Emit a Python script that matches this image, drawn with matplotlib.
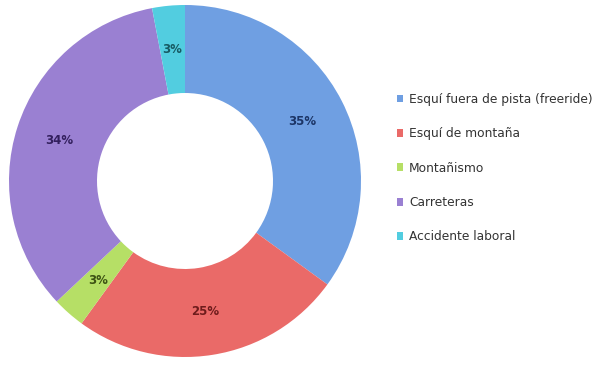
import numpy as np
import matplotlib.pyplot as plt
from matplotlib.patches import Patch

# Datos del gráfico de anillo
categorias = ['Esquí fuera de pista (freeride)', 'Esquí de montaña', 'Montañismo',
              'Carreteras', 'Accidente laboral']
porcentajes = [35, 25, 3, 34, 3]
etiquetas = ['35%', '25%', '3%', '34%', '3%']

colores = ['#6f9fe2', '#ea6a68', '#b6df66', '#9a80d2', '#52cde0']
colores_texto = ['#1c3566', '#6e1c1c', '#3d5214', '#33205e', '#175a63']

fig = plt.figure(figsize=(6.15, 3.65), dpi=100)
fig.patch.set_facecolor('white')

# Ejes del anillo, centrado a la izquierda
cx, cy, r = 185, 181, 176
ax = fig.add_axes([(cx - r) / 615, (365 - cy - r) / 365, 2 * r / 615, 2 * r / 365])
wedges, _ = ax.pie(porcentajes, colors=colores, startangle=90, counterclock=False,
                   radius=1, wedgeprops=dict(width=0.5, edgecolor='none'))
ax.set_xlim(-1, 1)
ax.set_ylim(-1, 1)
ax.set_aspect('auto')
ax.axis('off')

# Etiquetas de porcentaje dentro de cada sector
angulo = 90.0
for p, et, ct in zip(porcentajes, etiquetas, colores_texto):
    medio = angulo - p * 3.6 / 2
    angulo -= p * 3.6
    x = 0.75 * np.cos(np.radians(medio))
    y = 0.75 * np.sin(np.radians(medio))
    ax.text(x, y, et, ha='center', va='center', fontsize=8.5,
            fontweight='bold', color=ct)

# Leyenda
handles = [Patch(facecolor=c, edgecolor='none') for c in colores]
fig.legend(handles, categorias, loc='upper left', bbox_to_anchor=(392 / 615, 1 - 88 / 365),
           frameon=False, fontsize=8.8, labelcolor='#333333', handlelength=0.5,
           handleheight=0.6, handletextpad=0.5, labelspacing=1.75, borderaxespad=0)

plt.savefig('out.png', dpi=100)
